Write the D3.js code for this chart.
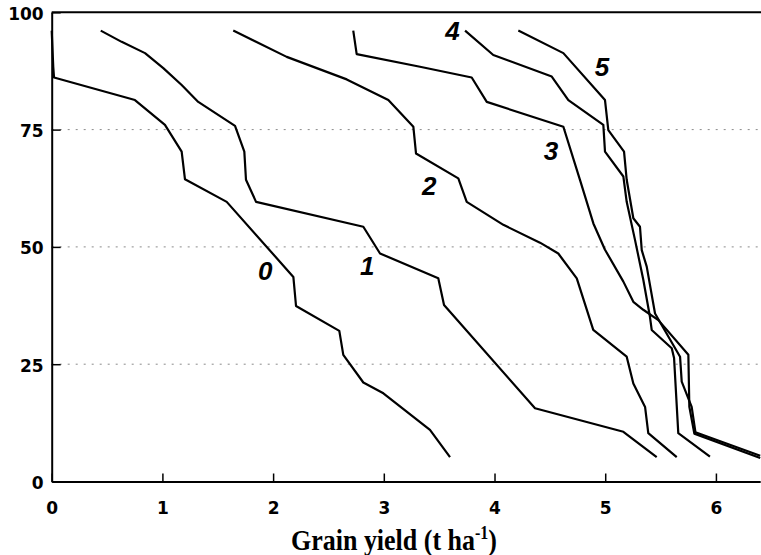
<!DOCTYPE html>
<html>
<head>
<meta charset="utf-8">
<script src="https://cdn.jsdelivr.net/npm/d3@7"></script>
<style>
  html, body { margin: 0; padding: 0; background: #fff; }
  svg { display: block; }
</style>
</head>
<body>
<svg id="chart" width="761" height="555"></svg>
<script>
// Cumulative probability curves: grain yield (t/ha) vs. probability of exceeding it (%),
// one curve per treatment level 0..5. Each array holds [yield, percent] vertices.
const curve0 = [[0.00, 96.1], [0.014, 88.4], [0.021, 86.1], [0.752, 81.3], [1.023, 76.0], [1.174, 70.3],
  [1.204, 64.4], [1.581, 59.6], [2.183, 43.6], [2.207, 37.4], [2.598, 32.1], [2.634, 27.0],
  [2.815, 21.1], [2.996, 18.8], [3.417, 11.0], [3.598, 5.2]];
const curve1 = [[0.443, 96.1], [0.632, 93.7], [0.843, 91.3], [1.008, 88.1], [1.174, 84.5], [1.324, 80.9],
  [1.656, 75.8], [1.740, 70.3], [1.755, 64.3], [1.846, 59.6], [2.815, 54.3], [2.966, 48.6],
  [3.492, 43.3], [3.544, 37.6], [4.366, 15.6], [5.164, 10.6], [5.465, 5.2]];
const curve2 = [[1.640, 96.1], [2.123, 90.5], [2.665, 85.7], [3.041, 81.3], [3.267, 75.6], [3.291, 69.9],
  [3.673, 64.6], [3.749, 59.6], [4.080, 54.7], [4.411, 50.9], [4.576, 48.6], [4.743, 43.3],
  [4.892, 32.3], [5.194, 26.6], [5.254, 20.9], [5.360, 15.9], [5.389, 10.3], [5.646, 5.2]];
const curve3 = [[2.724, 96.1], [2.755, 91.1], [3.327, 88.4], [3.794, 86.1], [3.930, 80.9], [4.622, 75.6],
  [4.772, 64.3], [4.893, 55.0], [4.998, 49.4], [5.164, 42.6], [5.254, 38.3], [5.344, 36.6],
  [5.480, 34.4], [5.751, 27.0], [5.760, 15.9], [5.805, 10.2], [6.40, 5.0]];
const curve4 = [[3.734, 96.1], [3.989, 90.9], [4.517, 86.3], [4.667, 81.3], [4.983, 76.0], [4.998, 70.3],
  [5.164, 65.0], [5.194, 59.6], [5.269, 51.5], [5.344, 43.0], [5.404, 35.1], [5.420, 32.3],
  [5.601, 28.4], [5.622, 26.3], [5.660, 10.3], [5.946, 5.3]];
const curve5 = [[4.215, 96.1], [4.622, 91.3], [4.998, 81.3], [5.028, 74.9], [5.170, 70.3], [5.194, 64.3],
  [5.254, 56.1], [5.314, 54.3], [5.330, 49.3], [5.375, 45.8], [5.450, 35.8], [5.570, 30.9],
  [5.676, 26.6], [5.691, 21.3], [5.781, 15.9], [5.815, 10.5], [6.40, 5.5]];

const curves = [curve0, curve1, curve2, curve3, curve4, curve5];
const curveNames = ["0", "1", "2", "3", "4", "5"];
// label anchor for each curve name, in data units [yield, percent]
const labelAt = [[1.93, 43.0], [2.85, 44.0], [3.41, 61.0], [4.51, 68.5], [3.62, 94.0], [4.97, 86.5]];

const xTicks = [0, 1, 2, 3, 4, 5, 6];
const yTicks = [0, 25, 50, 75, 100];
const gridValues = [25, 50, 75];
const xTitle = "Grain yield (t ha";
const xTitleSup = "-1";

const svg = d3.select("#chart");
const W = 761;

const x = d3.scaleLinear().domain([0, 6.4]).range([51.7, 760.2]);
const y = d3.scaleLinear().domain([0, 100]).range([481.5, 12.3]);

// dotted horizontal reference lines
svg.append("g")
  .selectAll("line")
  .data(gridValues)
  .join("line")
  .attr("x1", x(0)).attr("x2", W)
  .attr("y1", d => y(d)).attr("y2", d => y(d))
  .attr("stroke", "#8a8a8a")
  .attr("stroke-width", 1)
  .attr("stroke-dasharray", "2 6");

// curves
const line = d3.line().x(d => x(d[0])).y(d => y(d[1]));
svg.append("g")
  .selectAll("path")
  .data(curves)
  .join("path")
  .attr("d", line)
  .attr("fill", "none")
  .attr("stroke", "#000")
  .attr("stroke-width", 2.2)
  .attr("stroke-linejoin", "round");

// top frame line
svg.append("line")
  .attr("x1", x(0)).attr("x2", W)
  .attr("y1", y(100)).attr("y2", y(100))
  .attr("stroke", "#000").attr("stroke-width", 2);

// left axis (ticks pointing inward)
const yAxis = svg.append("g")
  .attr("transform", `translate(${x(0)},0)`)
  .call(d3.axisLeft(y).tickValues(yTicks).tickSize(-9).tickSizeOuter(0).tickPadding(8));
yAxis.select(".domain").attr("stroke-width", 2);
yAxis.selectAll(".tick line").attr("stroke-width", 1.5);
yAxis.selectAll(".tick text")
  .attr("dy", 7)
  .attr("font-family", "DejaVu Sans")
  .attr("font-weight", "bold")
  .attr("font-size", 17)
  .attr("fill", "#000");

// bottom axis (ticks pointing inward)
const xAxis = svg.append("g")
  .attr("transform", `translate(0,${y(0)})`)
  .call(d3.axisBottom(x).tickValues(xTicks).tickSize(-8).tickSizeOuter(0).tickFormat(d3.format("d")));
xAxis.select(".domain").attr("stroke-width", 2);
xAxis.selectAll(".tick line").attr("stroke-width", 1.5);
xAxis.selectAll(".tick text")
  .attr("y", 32)
  .attr("dy", 0)
  .attr("font-family", "DejaVu Sans")
  .attr("font-weight", "bold")
  .attr("font-size", 17)
  .attr("fill", "#000");

// curve labels
svg.append("g")
  .selectAll("text")
  .data(curveNames)
  .join("text")
  .attr("x", (d, i) => x(labelAt[i][0]))
  .attr("y", (d, i) => y(labelAt[i][1]))
  .attr("text-anchor", "middle")
  .attr("font-family", "Liberation Sans, Arial, sans-serif")
  .attr("font-style", "italic")
  .attr("font-weight", "bold")
  .attr("font-size", 26)
  .text(d => d);

// x-axis title, drawn slightly tall
const title = svg.append("text")
  .attr("transform", "translate(394,550) scale(1,1.15)")
  .attr("text-anchor", "middle")
  .attr("font-family", "Liberation Serif, Times New Roman, serif")
  .attr("font-weight", "bold")
  .attr("font-size", 26);
title.append("tspan").text(xTitle);
title.append("tspan").attr("font-size", 16).attr("dy", -10).text(xTitleSup);
title.append("tspan").attr("dy", 10).text(")");
</script>
</body>
</html>
